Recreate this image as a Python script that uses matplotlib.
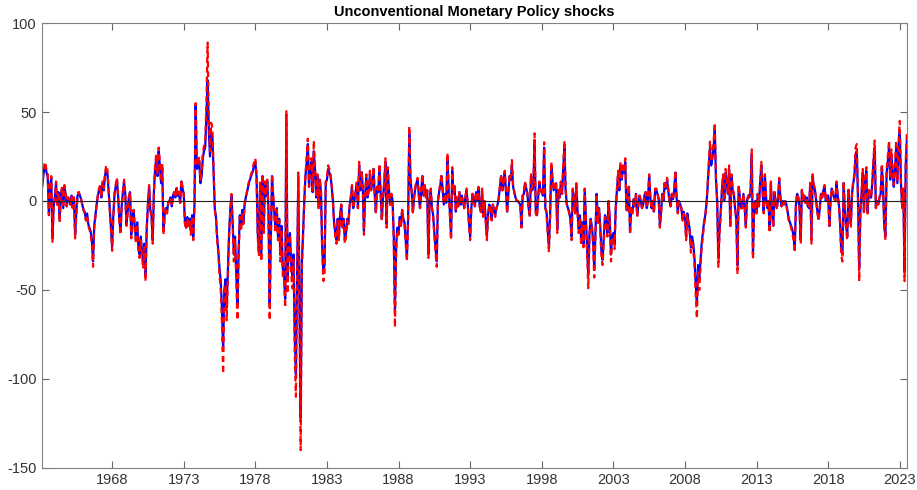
import matplotlib.pyplot as plt
import numpy as np

plt.rcParams['font.family'] = ['Liberation Sans', 'DejaVu Sans']
plt.rcParams['axes.unicode_minus'] = False

# monthly shocks, Feb 1963 .. Jul 2023 (one row per calendar year)
shock_blue = [
    6, 12, 18, 20, 16, 14, -7, 8, 13, -21, -3,
    2, 10, -2, 5, -11, 3, 7, -4, 8, 4, -3, 2,
    1, -2, 3, -4, 2, -19, -6, 3, 5, 3, 1, -2,
    -5, -6, -10, -7, -13, -15, -17, -22, -34, -14, -8, -2,
    3, 6, 8, 2, 10, 6, 14, 18, 16, 6, -4, -15,
    -26, -8, 4, 8, 12, 3, -10, -17, -3, 5, 11, 4,
    -13, -6, 2, 5, -19, -10, -5, -15, -22, -12, -26, -30,
    -20, -28, -35, -24, -42, -15, -2, 8, -5, -8, -22, 5,
    18, 24, 14, 28, 20, 10, 19, -17, -8, -4, -6, -1,
    0, 2, -3, 3, 5, 2, 7, 3, 5, -1, 11, 7,
    4, -12, -15, -9, -14, -10, -17, -8, -20, -2, 54, 18,
    19, 22, 10, 14, 24, 28, 30, 48, 68, 40, 25, 38,
    36, 17, -4, -9, -20, -28, -38, -45, -60, -82, -50, -44,
    -60, -38, -18, -5, 3, -12, -30, -20, -40, -58, -28, -8,
    -15, -5, -12, -2, 2, 5, 8, 11, 13, 15, 17, 20,
    22, 14, -18, -28, 10, -30, 14, -17, 10, 3, 11, -5,
    -58, -20, 14, 2, -8, -16, -4, -20, -10, -30, -14, -38,
    -40, -55, 48, -45, -24, -18, -35, -42, -30, -75, -98, -40,
    14, -60, -122, -34, -18, 0, 14, 22, 32, 8, 18, 22,
    5, 28, 18, 2, 14, -4, 12, 5, -25, -40, -36, 10,
    12, 18, 16, 14, 8, 0, -12, -18, -22, -10, -20, -8,
    -2, -14, -10, -22, -18, -10, -12, -3, 2, 8, -4, 0,
    5, 10, -4, 20, 6, 16, 8, -17, 3, 14, 2, 6,
    15, 6, 10, 18, 4, -6, 8, 5, 19, 4, -10, 2,
    10, 22, -13, 17, 6, -2, 4, 0, -20, -62, -25, -15,
    -18, -9, -14, -5, -10, -12, -22, -32, -10, 38, 12, 5,
    -6, 2, 7, 10, 12, 3, -4, 6, 14, 3, 8, 2,
    6, -30, 0, 6, -4, -8, -18, -26, -34, 0, 5, 9,
    14, 6, -2, 4, -1, 24, 6, -6, -20, 17, 4, 8,
    -6, 2, -3, 5, -2, 3, 0, -4, 2, 6, -2, -12,
    -20, -4, 4, 2, -3, 5, 0, 7, -3, -6, 6, -8,
    0, -10, -20, -8, -2, -4, -10, -2, -5, -8, -4, -2,
    2, 8, 14, 6, 10, 16, 6, -6, 4, 14, 12, 20,
    8, 5, 2, 0, 0, -1, -2, -14, 3, 4, 10, 7,
    4, -4, -8, 14, 6, 8, 34, -6, -8, 2, 10, 6,
    5, 3, 30, -4, -6, -16, -26, -8, 20, 12, 6, 8,
    10, -16, 6, 2, 10, 4, 18, 30, 6, -2, -4, -6,
    -10, -20, 6, 2, -6, 9, -6, -16, -8, -22, -12, -24,
    6, -10, -26, -42, -18, -10, -14, -22, -38, -18, 4, -12,
    -4, -14, -28, -33, -20, -8, -10, -18, 0, -10, -30, -20,
    -18, -24, -4, 6, 15, 6, 20, 12, 18, 16, 22, -5,
    -5, 8, -17, -4, -6, 1, -3, 4, -8, -2, 3, 0,
    -4, -2, 3, 5, -4, 0, 14, 2, -4, 0, -6, 6,
    6, 4, 1, -14, -6, 4, 0, 10, 7, 12, 6, 0,
    -3, 4, 1, 6, 16, 2, -6, 0, -2, -4, -10, -6,
    -10, -20, -7, -12, -16, -26, -20, -24, -32, -46, -58, -36,
    -44, -34, -24, -18, -12, -8, -2, 8, 20, 30, 20, 24,
    30, 40, 12, 0, -32, -16, -6, 6, 14, 0, 16, 10,
    4, 18, -14, 14, 6, 4, -4, -10, -36, 8, 2, -4,
    -4, 4, -3, -14, 0, 3, 2, 6, 26, -30, -2, 0,
    -6, 4, -3, 10, 20, 6, -6, 14, 2, -4, 0, -16,
    10, -6, -14, 5, 0, -4, 1, 12, 2, -3, 0, -2,
    0, -2, -6, -10, -12, -14, -16, -20, -26, -2, 4, 2,
    -4, -22, 6, 0, 3, -1, 2, -3, -4, 10, -22, 14,
    8, 6, 0, -6, -10, -4, 4, 2, 6, 8, 0, 3,
    3, -14, 0, 7, 4, 2, 0, 10, 3, -2, -12, -28,
    -30, 10, -6, -14, -20, 6, -4, -13, 4, 10, 14, 26,
    28, 2, -38, -6, 4, 16, -6, 12, 17, -6, 6, 2,
    2, 10, 22, 30, -4, 0, -2, 2, 4, 19, 8, -14,
    -20, 16, 22, 30, 12, 26, 16, 8, 18, 30, 10, 30,
    40, 10, -3, 6, -40, 20, 34,
]

shock_red = [
    7, 13, 20, 22, 17, 15, -8, 9, 14, -23, -3,
    2, 11, -2, 5, -12, 3, 8, -4, 9, 4, -3, 2,
    1, -2, 3, -4, 2, -21, -7, 3, 5, 3, 1, -2,
    -5, -7, -11, -8, -14, -16, -19, -24, -37, -15, -9, -2,
    3, 7, 9, 2, 11, 7, 15, 20, 18, 7, -4, -16,
    -28, -9, 4, 9, 13, 3, -11, -19, -3, 5, 12, 4,
    -14, -7, 2, 5, -21, -11, -5, -16, -24, -13, -28, -32,
    -22, -30, -38, -26, -45, -16, -2, 9, -5, -9, -24, 5,
    20, 26, 15, 30, 22, 11, 21, -19, -9, -4, -7, -1,
    0, 2, -3, 3, 5, 2, 8, 3, 5, -1, 12, 8,
    4, -13, -16, -10, -15, -11, -19, -9, -22, -2, 55, 20,
    21, 25, 12, 16, 27, 31, 34, 55, 89, 46, 28, 44,
    41, 19, -5, -10, -22, -30, -42, -50, -68, -97, -56, -47,
    -67, -42, -20, -6, 4, -14, -34, -22, -45, -67, -31, -9,
    -17, -6, -13, -2, 2, 5, 9, 12, 14, 16, 19, 22,
    24, 15, -20, -31, 11, -34, 15, -19, 11, 3, 12, -6,
    -67, -22, 15, 2, -9, -18, -5, -22, -11, -34, -16, -42,
    -44, -60, 51, -52, -26, -19, -40, -49, -33, -86, -110, -45,
    16, -68, -140, -38, -20, 0, 15, 24, 35, 8, 20, 24,
    5, 34, 20, 2, 15, -4, 13, 5, -28, -45, -40, 11,
    13, 20, 18, 15, 9, 0, -13, -20, -24, -11, -22, -9,
    -2, -15, -11, -24, -20, -11, -13, -3, 2, 9, -4, 0,
    5, 11, -4, 22, 7, 17, 9, -19, 3, 15, 2, 6,
    17, 6, 11, 19, 4, -7, 8, 5, 21, 4, -11, 2,
    11, 24, -15, 19, 7, -2, 4, 0, -22, -71, -28, -17,
    -19, -10, -15, -5, -11, -13, -24, -34, -11, 42, 13, 6,
    -7, 2, 8, 11, 13, 3, -4, 7, 15, 3, 9, 2,
    6, -32, 0, 7, -4, -9, -19, -29, -37, 0, 5, 10,
    15, 6, -2, 4, -1, 27, 7, -7, -22, 19, 4, 9,
    -6, 2, -3, 5, -2, 3, 0, -4, 2, 7, -2, -13,
    -22, -4, 4, 2, -3, 5, 0, 8, -3, -7, 7, -9,
    0, -11, -22, -9, -2, -4, -11, -2, -5, -9, -4, -2,
    2, 9, 15, 6, 11, 17, 6, -7, 4, 15, 13, 23,
    9, 5, 2, 0, 0, -1, -2, -15, 3, 4, 11, 7,
    4, -4, -9, 15, 7, 9, 38, -7, -9, 2, 11, 6,
    5, 3, 33, -4, -7, -18, -29, -9, 22, 13, 6, 9,
    11, -18, 7, 2, 11, 4, 20, 34, 7, -2, -4, -7,
    -11, -22, 7, 2, -7, 10, -7, -18, -9, -25, -13, -26,
    7, -11, -29, -49, -20, -11, -15, -24, -43, -20, 4, -13,
    -4, -15, -31, -36, -22, -9, -11, -20, 0, -11, -34, -22,
    -20, -27, -4, 7, 17, 7, 22, 13, 20, 17, 24, -6,
    -6, 9, -19, -4, -7, 1, -3, 4, -9, -2, 3, 0,
    -4, -2, 3, 5, -4, 0, 15, 2, -4, 0, -7, 7,
    7, 4, 1, -15, -7, 4, 0, 11, 8, 13, 7, 0,
    -3, 4, 1, 7, 17, 2, -7, 0, -2, -4, -11, -7,
    -11, -22, -8, -13, -18, -29, -22, -27, -36, -52, -66, -40,
    -50, -38, -26, -20, -13, -9, -2, 9, 22, 34, 22, 27,
    33, 44, 13, 0, -37, -18, -7, 7, 15, 0, 18, 11,
    4, 20, -15, 15, 7, 4, -4, -11, -41, 9, 2, -4,
    -4, 4, -3, -15, 0, 3, 2, 7, 29, -33, -2, 0,
    -7, 4, -3, 11, 22, 7, -7, 15, 2, -4, 0, -18,
    11, -7, -15, 5, 0, -4, 1, 13, 2, -3, 0, -2,
    0, -2, -7, -11, -13, -15, -18, -22, -29, -2, 4, 2,
    -4, -24, 7, 0, 3, -1, 2, -3, -4, 11, -24, 15,
    9, 7, 0, -7, -11, -4, 4, 2, 7, 9, 0, 3,
    3, -15, 0, 7, 4, 2, 0, 11, 3, -2, -13, -31,
    -34, 11, -7, -15, -22, 7, -4, -15, 4, 11, 15, 30,
    32, 2, -45, -7, 4, 18, -7, 13, 19, -7, 7, 2,
    2, 11, 24, 34, -4, 0, -2, 2, 4, 21, 9, -15,
    -22, 18, 25, 34, 13, 29, 18, 9, 20, 34, 11, 33,
    45, 11, -4, 7, -45, 22, 39,
]

start_year, start_month = 1963, 2
tick_years = list(range(1968, 2024, 5))
y_ticks = [-150, -100, -50, 0, 50, 100]

n = len(shock_blue)
t = start_year + (start_month - 1 + np.arange(n)) / 12.0

fig = plt.figure(figsize=(9.17, 4.90), dpi=100)
ax = fig.add_axes([0.0455, 0.045, 0.9435, 0.908])

ax.plot(t, shock_blue, color='#0000ff', lw=1.6)
ax.plot(t, shock_red, color='#ff0000', lw=1.6, ls=(0, (2.6, 1.8)))
ax.axhline(0, color='#222222', lw=0.8)

ax.set_xlim(t[0], t[-1])
ax.set_ylim(-150, 100)
ax.set_xticks(tick_years)
ax.set_xticklabels([str(y) for y in tick_years])
ax.set_yticks(y_ticks)

ax.tick_params(direction='in', length=5, width=0.8, top=True, right=True,
               labelsize=10.5, colors='#666666', labelcolor='#333333')
for s in ax.spines.values():
    s.set_color('#808080')
    s.set_linewidth(0.8)

ax.set_title('Unconventional Monetary Policy shocks', fontsize=10.5,
             fontweight='bold', pad=5)

fig.savefig('out.png', dpi=100)
